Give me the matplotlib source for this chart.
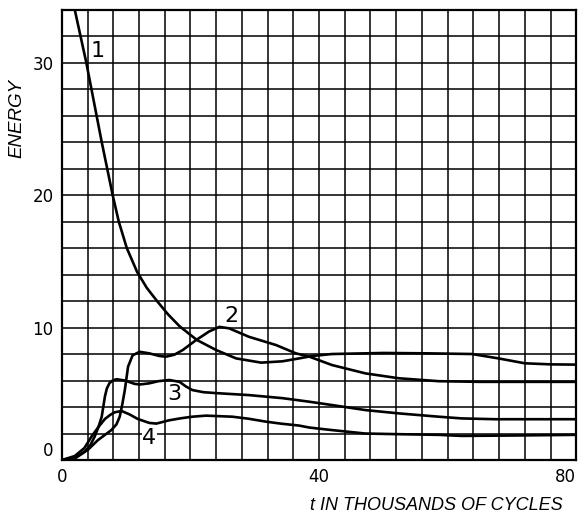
import matplotlib
matplotlib.use("Agg")
import matplotlib.pyplot as plt

plt.rcParams['font.family'] = ['DejaVu Sans']

# energie par mode
t1 = [0, 2.0, 3.8, 4.6, 5.4, 6.2, 7.05, 7.9, 8.85, 10.1, 11.7, 13.2, 14.8, 16.5, 18.3, 21, 24, 27.1, 31, 34.3, 36.9, 38.9, 42, 50, 57.1, 63.8, 67.9, 72, 76, 80]
e1 = [38.5, 34, 30, 28, 26, 24, 22, 20, 18, 16, 14.2, 13.0, 12.0, 11.0, 10.1, 9.06, 8.3, 7.67, 7.35, 7.45, 7.67, 7.85, 8.0, 8.08, 8.05, 8.0, 7.67, 7.3, 7.22, 7.2]

t2 = [0, 2, 4, 5.6, 7.7, 8.5, 9.0, 9.4, 9.8, 10.3, 11.0, 12.1, 13.6, 15.2, 16.2, 17.5, 18.8, 20.9, 22.9, 24.5, 26, 29.1, 33.3, 36.4, 38.5, 42, 47.2, 52.4, 58.6, 65, 72, 80]
e2 = [0, 0.2, 0.75, 1.5, 2.26, 2.7, 3.27, 4.2, 5.3, 7.05, 7.9, 8.17, 8.05, 7.85, 7.8, 7.95, 8.3, 9.06, 9.7, 10.05, 9.94, 9.3, 8.68, 8.05, 7.8, 7.17, 6.54, 6.17, 5.95, 5.9, 5.9, 5.9]

t3 = [0, 2, 3.5, 4.4, 5.1, 5.7, 6.2, 6.7, 7.0, 7.4, 7.9, 8.5, 9.8, 11.3, 12.1, 13.6, 15, 16.7, 18.3, 19.3, 20.3, 22, 24, 29.1, 34.3, 38.5, 42, 47.2, 52.4, 58.6, 62.2, 67.4, 80]
e3 = [0, 0.1, 0.6, 1.1, 1.76, 2.5, 3.27, 4.8, 5.4, 5.8, 6.0, 6.1, 6.0, 5.75, 5.7, 5.79, 5.95, 6.04, 5.9, 5.55, 5.28, 5.12, 5.05, 4.9, 4.67, 4.4, 4.15, 3.77, 3.52, 3.27, 3.14, 3.08, 3.08]

t4 = [0, 2, 3.5, 4.6, 5.7, 6.7, 7.5, 8.2, 9.3, 10.5, 11.8, 13.6, 14.7, 16.7, 18.5, 20.3, 22.4, 26.5, 29, 31.7, 34, 36.9, 38.5, 42, 47.2, 52.4, 58.6, 62.2, 70, 80]
e4 = [0, 0.3, 0.9, 1.76, 2.5, 3.1, 3.4, 3.6, 3.7, 3.45, 3.1, 2.8, 2.75, 3.0, 3.15, 3.27, 3.35, 3.27, 3.12, 2.9, 2.75, 2.6, 2.45, 2.26, 2.0, 1.95, 1.9, 1.82, 1.85, 1.9]

courbes = [(t1, e1), (t2, e2), (t3, e3), (t4, e4)]
noms = ['1', '2', '3', '4']
pos_noms = [(5.5, 30.9), (26.4, 10.9), (17.5, 5.0), (13.6, 1.64)]

fig = plt.figure(figsize=(5.78, 5.14), dpi=100)
ax = fig.add_axes([0.107, 0.105, 0.89, 0.8765])

for t, e in courbes:
    ax.plot(t, e, color='black', linewidth=1.9, solid_capstyle='round',
            solid_joinstyle='round')

for nom, (x, y) in zip(noms, pos_noms):
    txt = ax.text(x, y, nom, fontsize=16, ha='center', va='center')
    if nom == '4':
        txt.set_bbox(dict(facecolor='white', edgecolor='none', pad=0.5))

ax.set_xlim(0, 80)
ax.set_ylim(0, 34)
ax.set_xticks([0, 40, 80])
ax.set_yticks([0, 10, 20, 30])
ax.set_xticks(range(0, 81, 4), minor=True)
ax.set_yticks(range(0, 35, 2), minor=True)
ax.grid(True, which='both', color='black', linewidth=1.1)
ax.set_axisbelow(True)
ax.tick_params(which='both', length=0, labelsize=12, pad=6)

for s in ax.spines.values():
    s.set_linewidth(1.6)

ax.get_yticklabels()[0].set_va('bottom')
ax.get_xticklabels()[-1].set_ha('right')

fig.text(0.030, 0.77, 'ENERGY', rotation=90, fontsize=13.5, style='italic',
         family='Liberation Sans', ha='center', va='center')
fig.text(0.755, 0.016, 't IN THOUSANDS OF CYCLES', fontsize=13, style='italic',
         family='Liberation Sans', ha='center', va='center')

fig.savefig('out.png', dpi=100, facecolor='white')
